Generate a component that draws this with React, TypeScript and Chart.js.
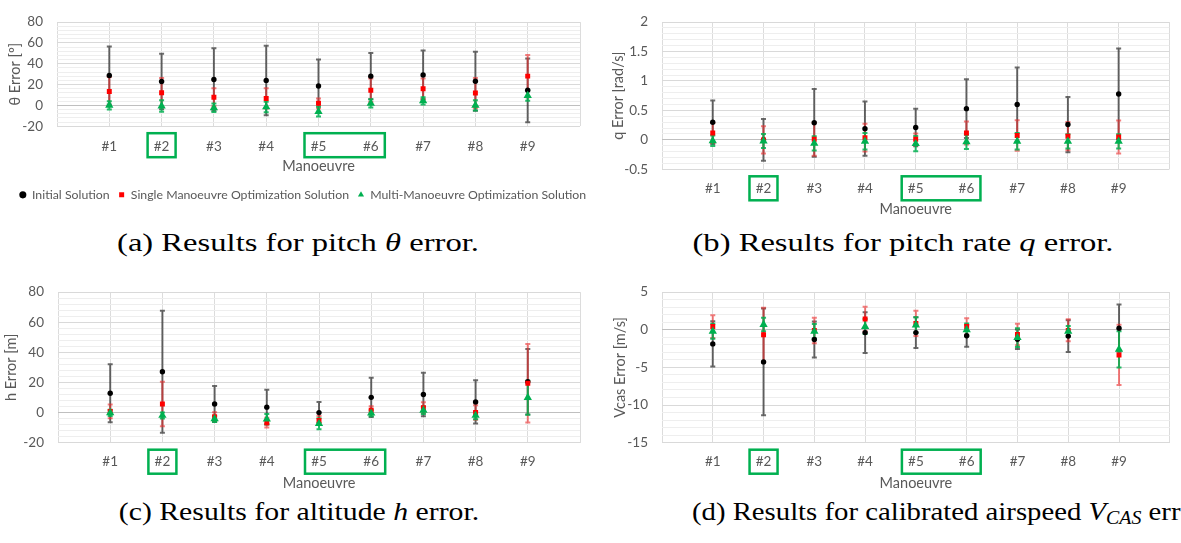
import React, { useEffect, useRef } from 'react';
import { Chart, registerables } from 'chart.js';

Chart.register(...registerables);

// ---------- data ----------
const manoeuvres = ['#1', '#2', '#3', '#4', '#5', '#6', '#7', '#8', '#9'];
const seriesNames = [
  'Initial Solution',
  'Single Manoeuvre Optimization Solution',
  'Multi-Manoeuvre Optimization Solution',
];
// manoeuvre groups highlighted with a box (first, last)
const highlightGroups = [
  [2, 2],
  [5, 6],
];

// (a) pitch theta error [º]
const thetaInitMean = [28.7, 22.9, 24.9, 24.0, 18.6, 28.1, 29.3, 23.2, 14.5];
const thetaInitStd = [27.8, 26.7, 30.0, 33.4, 25.5, 22.3, 23.5, 28.4, 30.6];
const thetaSingleMean = [13.3, 12.2, 7.8, 6.7, 2.0, 14.5, 15.9, 11.9, 28.1];
const thetaSingleStd = [14.0, 14.0, 8.7, 9.8, 4.7, 11.3, 9.9, 14.5, 20.3];
const thetaMultiMean = [0.0, -0.6, -2.3, -1.5, -6.0, 2.0, 4.3, 0.0, 9.5];
const thetaMultiStd = [4.0, 5.5, 4.0, 5.0, 4.8, 4.0, 3.5, 5.0, 5.0];
const thetaAxis = { min: -20, max: 80, major: 20, minor: 4 };

// (b) pitch rate q error [rad/s]
const qInitMean = [0.3, 0.0, 0.29, 0.19, 0.21, 0.53, 0.6, 0.26, 0.78];
const qInitStd = [0.37, 0.355, 0.575, 0.46, 0.32, 0.5, 0.63, 0.47, 0.77];
const qSingleMean = [0.115, 0.0, 0.01, 0.037, 0.01, 0.115, 0.073, 0.063, 0.047];
const qSingleStd = [0.17, 0.23, 0.28, 0.235, 0.1, 0.195, 0.26, 0.24, 0.28];
const qMultiMean = [-0.015, -0.02, -0.06, -0.025, -0.065, -0.035, -0.025, -0.025, -0.025];
const qMultiStd = [0.09, 0.12, 0.12, 0.14, 0.13, 0.12, 0.14, 0.12, 0.12];
const qAxis = { min: -0.5, max: 2, major: 0.5, minor: 0.1 };

// (c) altitude h error [m]
const hInitMean = [12.8, 27.1, 5.7, 3.6, 0.0, 10.1, 12.0, 7.1, 20.5];
const hInitStd = [19.3, 40.5, 12.0, 11.5, 7.0, 13.0, 14.5, 14.3, 21.7];
const hSingleMean = [0.8, 5.7, -2.7, -6.7, -5.3, 1.5, 3.2, 0.0, 19.5];
const hSingleStd = [4.5, 14.7, 3.0, 3.2, 3.0, 2.7, 3.7, 4.8, 26.1];
const hMultiMean = [-0.2, -1.9, -4.2, -4.4, -7.4, -0.4, 1.5, -1.9, 9.9];
const hMultiStd = [2.0, 2.0, 2.0, 3.4, 3.6, 2.0, 2.5, 2.5, 11.3];
const hAxis = { min: -20, max: 80, major: 20, minor: 4 };

// (d) calibrated airspeed Vcas error [m/s]
const vInitMean = [-1.88, -4.27, -1.3, -0.38, -0.38, -0.8, -1.26, -0.84, 0.21];
const vInitStd = [3.0, 7.1, 2.4, 2.7, 2.05, 1.46, 1.3, 2.1, 3.14];
const vSingleMean = [0.42, -0.67, -0.1, 1.42, 0.84, 0.42, -0.63, -0.08, -3.35];
const vSingleStd = [1.5, 3.6, 1.7, 1.63, 1.67, 1.1, 1.43, 1.46, 4.0];
const vMultiMean = [-0.2, 0.7, -0.2, 0.42, 0.63, 0.0, -1.05, -0.2, -2.6];
const vMultiStd = [1.0, 0.9, 0.95, 1.0, 1.04, 0.84, 1.25, 0.7, 2.4];
const vAxis = { min: -15, max: 5, major: 5, minor: 1 };

// ---------- styling ----------
const FONT = 'Lato, "Open Sans", sans-serif';
const TEXT = '#595959';
const markerColors = ['#000000', '#ff0000', '#00b050'];
const barColors = ['rgba(0,0,0,0.58)', 'rgba(235,45,45,0.62)', 'rgba(0,176,80,0.85)'];
const markerStyles = ['circle', 'rect', 'triangle'];
const markerRadii = [2.7, 3.5, 4.8];

type PanelCfg = {
  key: string;
  left: number;
  top: number;
  width: number;
  height: number;
  means: number[][];
  stds: number[][];
  axis: { min: number; max: number; major: number; minor: number };
  yTitle: string;
  yWidth: number;
  yTitlePad: number;
  padTop: number;
  rightGap: number;
  xHeight: number;
  xTickPad: number;
  xTitlePad: number;
  legend: boolean;
};

const errorBarPlugin = {
  id: 'errorBars',
  beforeDatasetsDraw(chart: any) {
    const ctx = chart.ctx;
    const xs = chart.scales.x;
    const ys = chart.scales.y;
    ctx.save();
    chart.data.datasets.forEach((ds: any, i: number) => {
      ctx.strokeStyle = barColors[i];
      ctx.lineWidth = 2;
      ds.data.forEach((pt: any, j: number) => {
        const e = ds.errors[j];
        const x = xs.getPixelForValue(pt.x);
        const y1 = ys.getPixelForValue(pt.y + e);
        const y2 = ys.getPixelForValue(pt.y - e);
        ctx.beginPath();
        ctx.moveTo(x, y1);
        ctx.lineTo(x, y2);
        ctx.moveTo(x - 2.5, y1);
        ctx.lineTo(x + 2.5, y1);
        ctx.moveTo(x - 2.5, y2);
        ctx.lineTo(x + 2.5, y2);
        ctx.stroke();
      });
    });
    ctx.restore();
  },
};

const highlightPlugin = {
  id: 'highlightBoxes',
  afterDraw(chart: any) {
    const ctx = chart.ctx;
    const xs = chart.scales.x;
    const bottom = chart.chartArea.bottom;
    ctx.save();
    ctx.strokeStyle = '#00b050';
    ctx.lineWidth = 2.5;
    highlightGroups.forEach(([a, b]) => {
      const x1 = xs.getPixelForValue(a) - 14;
      const x2 = xs.getPixelForValue(b) + 14;
      ctx.strokeRect(x1, bottom + 7, x2 - x1, 24);
    });
    ctx.restore();
  },
};

function isMajor(v: number, major: number) {
  const r = v / major;
  return Math.abs(r - Math.round(r)) < 1e-6;
}

function buildConfig(p: PanelCfg): any {
  const datasets = p.means.map((m, i) => ({
    label: seriesNames[i],
    data: m.map((v, j) => ({ x: j + 1, y: v })),
    errors: p.stds[i],
    backgroundColor: markerColors[i],
    borderColor: markerColors[i],
    borderWidth: 0,
    pointStyle: markerStyles[i],
    pointRadius: markerRadii[i],
    pointHoverRadius: markerRadii[i],
    showLine: false,
    order: 2 - i,
  }));
  return {
    type: 'scatter',
    data: { datasets },
    plugins: [errorBarPlugin, highlightPlugin],
    options: {
      responsive: false,
      animation: false,
      devicePixelRatio: 1,
      events: [],
      layout: { padding: { left: 0, top: p.padTop, right: 0, bottom: 0 } },
      plugins: {
        tooltip: { enabled: false },
        legend: {
          display: p.legend,
          position: 'bottom',
          labels: {
            usePointStyle: true,
            boxWidth: 6,
            boxHeight: 5,
            padding: 9,
            color: TEXT,
            font: { family: FONT, size: 12.3 },
            sort: (a: any, b: any) => a.datasetIndex - b.datasetIndex,
          },
        },
      },
      scales: {
        x: {
          type: 'linear',
          min: 0,
          max: 10,
          border: { display: false },
          grid: { color: '#dcdcdc', drawTicks: false, lineWidth: 1 },
          ticks: {
            stepSize: 1,
            autoSkip: false,
            maxRotation: 0,
            padding: p.xTickPad,
            color: TEXT,
            font: { family: FONT, size: 13.5 },
            callback: (v: number) => manoeuvres[v - 1] ?? '',
          },
          title: {
            display: true,
            text: 'Manoeuvre',
            color: TEXT,
            font: { family: FONT, size: 14.5 },
            padding: { top: 0, bottom: p.xTitlePad },
          },
          afterFit: (s: any) => {
            s.height = p.xHeight;
          },
        },
        y: {
          type: 'linear',
          min: p.axis.min,
          max: p.axis.max,
          border: { display: false },
          grid: {
            drawTicks: false,
            lineWidth: 1,
            color: (c: any) => {
              const v = c.tick ? c.tick.value : 1;
              if (Math.abs(v) < 1e-9) return '#bfbfbf';
              return isMajor(v, p.axis.major) ? '#d9d9d9' : '#eeeeee';
            },
          },
          ticks: {
            stepSize: p.axis.minor,
            autoSkip: false,
            padding: 14,
            color: TEXT,
            font: { family: FONT, size: 13.5 },
            callback: (v: number) => (isMajor(v, p.axis.major) ? String(v) : ''),
          },
          title: {
            display: true,
            text: p.yTitle,
            color: TEXT,
            font: { family: FONT, size: 14.5 },
            padding: { top: p.yTitlePad, bottom: 0 },
          },
          afterFit: (s: any) => {
            s.width = p.yWidth;
          },
        },
        // empty right-hand box that only reserves the white margin right of the plot
        gap: {
          type: 'linear',
          position: 'right',
          display: p.rightGap > 0,
          min: 0,
          max: 1,
          border: { display: false },
          grid: { display: false, drawTicks: false },
          ticks: { display: false },
          afterFit: (s: any) => {
            s.width = p.rightGap;
          },
        },
      },
    },
  };
}

const panels: PanelCfg[] = [
  {
    key: 'a', left: 0, top: 0, width: 606, height: 211,
    means: [thetaInitMean, thetaSingleMean, thetaMultiMean],
    stds: [thetaInitStd, thetaSingleStd, thetaMultiStd],
    axis: thetaAxis, yTitle: 'θ Error [º]',
    yWidth: 57, yTitlePad: 6.3, padTop: 10, rightGap: 26,
    xHeight: 53.5, xTickPad: 12, xTitlePad: 4.8, legend: true,
  },
  {
    key: 'b', left: 612, top: 0, width: 569, height: 225,
    means: [qInitMean, qSingleMean, qMultiMean],
    stds: [qInitStd, qSingleStd, qMultiStd],
    axis: qAxis, yTitle: 'q Error [rad/s]',
    yWidth: 50, yTitlePad: -2.7, padTop: 10, rightGap: 0,
    xHeight: 55.7, xTickPad: 11.6, xTitlePad: 7.3, legend: false,
  },
  {
    key: 'c', left: 0, top: 270, width: 600, height: 225,
    means: [hInitMean, hSingleMean, hMultiMean],
    stds: [hInitStd, hSingleStd, hMultiStd],
    axis: hAxis, yTitle: 'h Error [m]',
    yWidth: 58, yTitlePad: 3, padTop: 15, rightGap: 20,
    xHeight: 52.3, xTickPad: 11.2, xTitlePad: 3.3, legend: false,
  },
  {
    key: 'd', left: 600, top: 270, width: 581, height: 225,
    means: [vInitMean, vSingleMean, vMultiMean],
    stds: [vInitStd, vSingleStd, vMultiStd],
    axis: vAxis, yTitle: 'Vcas Error [m/s]',
    yWidth: 62, yTitlePad: 11.3, padTop: 13.3, rightGap: 0,
    xHeight: 52.3, xTickPad: 11.2, xTitlePad: 3.3, legend: false,
  },
];

function Panel({ cfg }: { cfg: PanelCfg }) {
  const ref = useRef<HTMLCanvasElement | null>(null);
  useEffect(() => {
    if (!ref.current) return;
    const chart = new Chart(ref.current, buildConfig(cfg));
    return () => chart.destroy();
  }, [cfg]);
  return (
    <div style={{ position: 'absolute', left: cfg.left, top: cfg.top, width: cfg.width, height: cfg.height }}>
      <canvas ref={ref} width={cfg.width} height={cfg.height} style={{ width: cfg.width, height: cfg.height, display: 'block' }} />
    </div>
  );
}

const captionStyle: React.CSSProperties = {
  position: 'absolute',
  fontFamily: '"Liberation Serif", "DejaVu Serif", serif',
  fontSize: 26,
  lineHeight: '30px',
  color: '#000',
  whiteSpace: 'nowrap',
};

export default function App() {
  return (
    <div style={{ position: 'absolute', left: 0, top: 0, width: 1181, height: 543, background: '#fff', overflow: 'hidden' }}>
      {panels.map((p) => (
        <Panel key={p.key} cfg={p} />
      ))}
      <div style={{ ...captionStyle, left: 0, width: 596, top: 228, textAlign: 'center', transform: 'scaleX(1.254)', transformOrigin: '298px 50%' }}>
        (a) Results for pitch <i>θ</i> error.
      </div>
      <div style={{ ...captionStyle, left: 606, width: 594, top: 228, textAlign: 'center', transform: 'scaleX(1.254)', transformOrigin: '297px 50%' }}>
        (b) Results for pitch rate <i>q</i> error.
      </div>
      <div style={{ ...captionStyle, left: 0, width: 598, top: 497, textAlign: 'center', transform: 'scaleX(1.145)', transformOrigin: '299px 50%' }}>
        (c) Results for altitude <i>h</i> error.
      </div>
      <div style={{ ...captionStyle, left: 692, top: 497, transform: 'scaleX(1.105)', transformOrigin: '0px 50%' }}>
        (d) Results for calibrated airspeed <i>V</i><sub style={{ fontSize: 18, fontStyle: 'italic', verticalAlign: '-4px', lineHeight: 0 }}>CAS</sub> error.
      </div>
    </div>
  );
}
